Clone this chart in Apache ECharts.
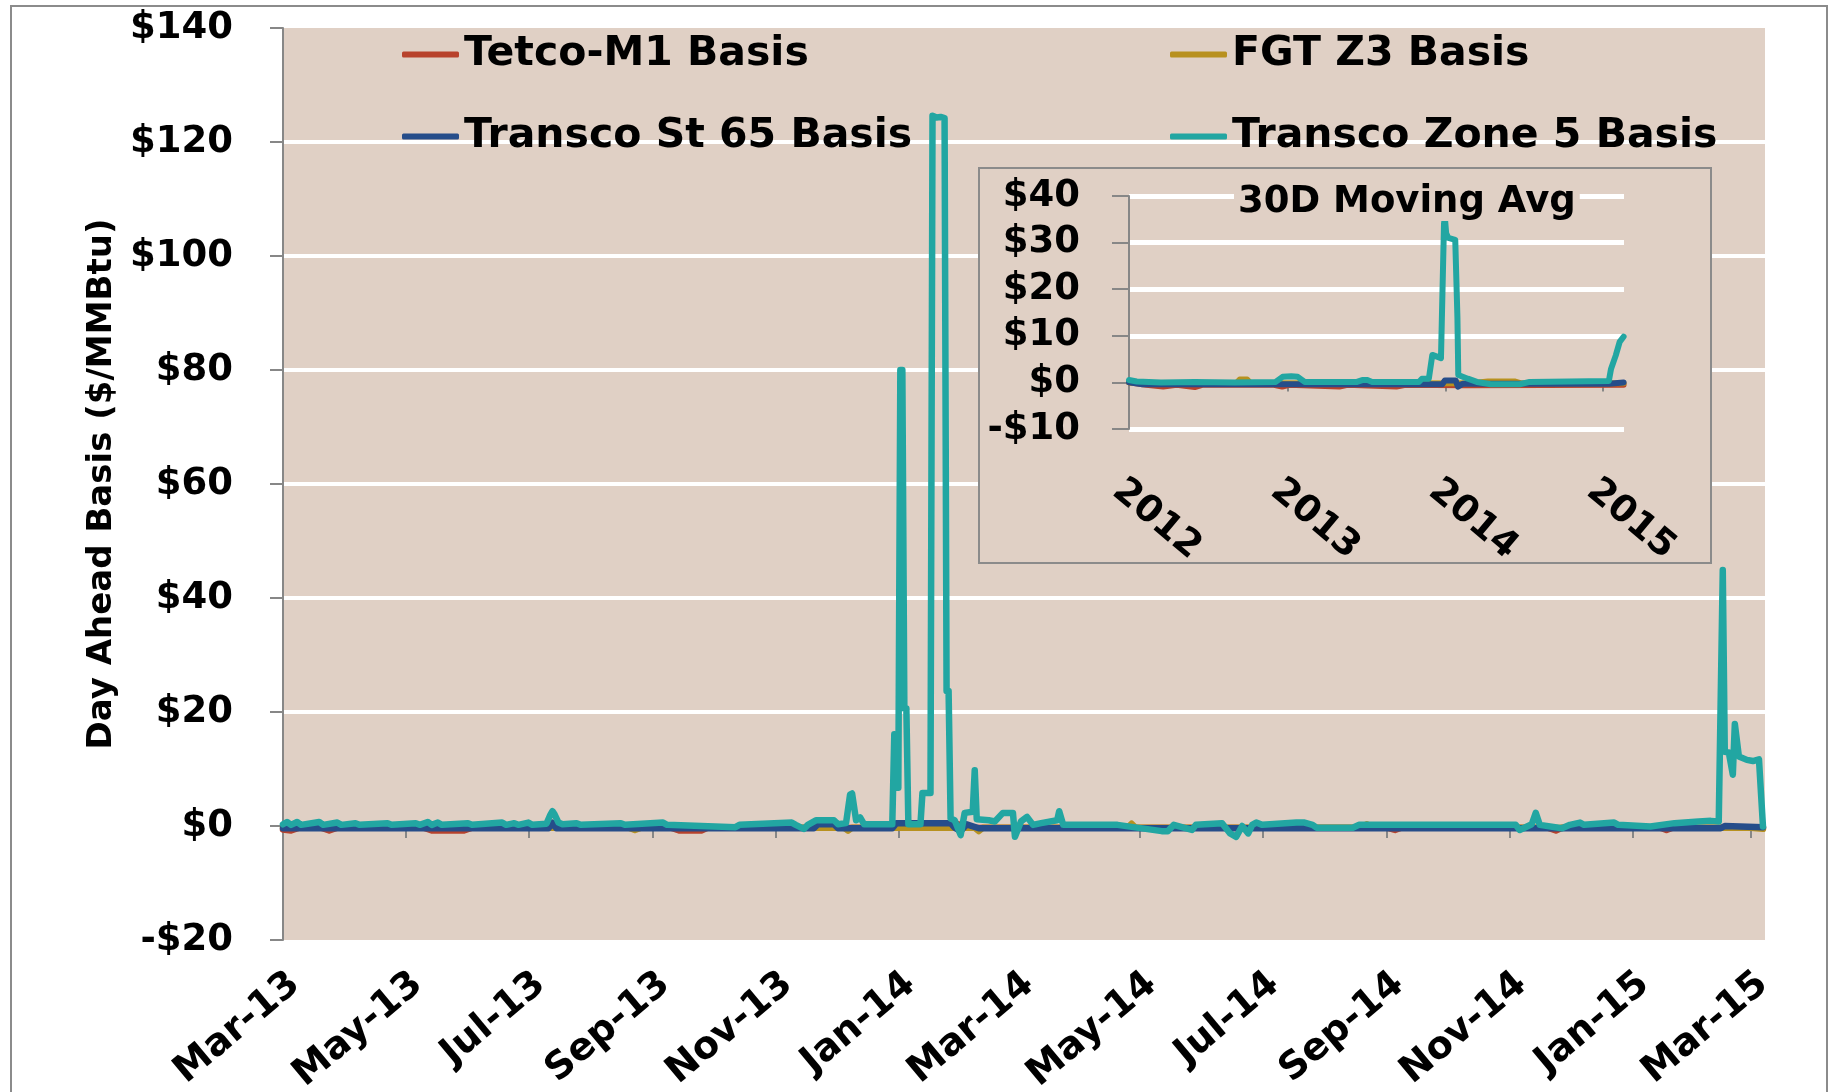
<!DOCTYPE html>
<html>
<head>
<meta charset="utf-8">
<title>Day Ahead Basis</title>
<script src="https://cdn.jsdelivr.net/npm/echarts@6/dist/echarts.min.js"></script>
<style>
  html, body { margin: 0; padding: 0; background: #fff; }
  #chart { width: 1835px; height: 1092px; }
</style>
</head>
<body>
<div id="chart"></div>
<script>
// ---- values ----
const monthTicks = ['2013-03-01', '2013-05-01', '2013-07-01', '2013-09-01', '2013-11-01', '2014-01-01',
  '2014-03-01', '2014-05-01', '2014-07-01', '2014-09-01', '2014-11-01', '2015-01-01', '2015-03-01']
const monthLabels = ['Mar-13', 'May-13', 'Jul-13', 'Sep-13', 'Nov-13', 'Jan-14',
  'Mar-14', 'May-14', 'Jul-14', 'Sep-14', 'Nov-14', 'Jan-15', 'Mar-15']
const yearTicks = ['2012-01-01', '2013-01-01', '2014-01-01', '2015-01-01']
const yearLabels = ['2012', '2013', '2014', '2015']
const seriesNames = ['Tetco-M1 Basis', 'FGT Z3 Basis', 'Transco St 65 Basis', 'Transco Zone 5 Basis']

// daily basis, $/MMBtu  [date, value]
const tetcoDaily = [
  ['2013-03-01', -0.6], ['2013-03-05', -0.8], ['2013-03-09', -0.3], ['2013-03-20', -0.3], ['2013-03-24', -0.8],
  ['2013-03-28', -0.3], ['2013-05-10', -0.3], ['2013-05-14', -0.8], ['2013-05-30', -0.8], ['2013-06-03', -0.3],
  ['2013-09-10', -0.3], ['2013-09-14', -0.8], ['2013-09-25', -0.8], ['2013-09-28', -0.3], ['2013-12-20', -0.3],
  ['2014-01-20', 0.4], ['2014-01-30', 0.4], ['2014-02-05', -0.3], ['2014-09-01', -0.3], ['2014-09-05', -0.7],
  ['2014-09-08', -0.3], ['2014-11-20', -0.3], ['2014-11-24', -0.8], ['2014-11-27', -0.3], ['2015-01-15', -0.3],
  ['2015-01-18', -0.7], ['2015-01-21', -0.3], ['2015-03-07', -0.3]
]
const fgtDaily = [
  ['2013-03-01', -0.3], ['2013-08-20', -0.3], ['2013-08-23', -0.7], ['2013-08-26', -0.3], ['2013-12-05', -0.3],
  ['2013-12-07', -0.8], ['2013-12-09', -0.3], ['2014-02-08', -0.3], ['2014-02-10', -0.9], ['2014-02-12', -0.3],
  ['2014-04-25', -0.3], ['2014-04-27', 0.4], ['2014-04-29', -0.3], ['2014-08-20', -0.3], ['2014-08-22', 0.3],
  ['2014-08-24', -0.3], ['2015-03-01', -0.3], ['2015-03-07', -0.5]
]
const st65Daily = [
  ['2013-03-01', -0.4], ['2013-07-11', -0.4], ['2013-07-13', 0.6], ['2013-07-15', -0.4], ['2013-11-20', -0.4],
  ['2013-11-22', 0.3], ['2013-11-30', 0.3], ['2013-12-02', -0.4], ['2013-12-29', -0.4], ['2013-12-31', 0.5],
  ['2014-01-27', 0.5], ['2014-01-29', -0.3], ['2014-02-01', -0.9], ['2014-02-04', 0.3], ['2014-02-10', -0.4],
  ['2015-02-14', -0.4], ['2015-02-16', 0.0], ['2015-03-07', -0.2]
]
const zone5Daily = [
  ['2013-03-01', 0.3], ['2013-03-03', 0.7], ['2013-03-05', 0.2], ['2013-03-08', 0.7], ['2013-03-10', 0.2],
  ['2013-03-19', 0.7], ['2013-03-21', 0.2], ['2013-03-28', 0.6], ['2013-03-30', 0.2], ['2013-04-06', 0.5],
  ['2013-04-08', 0.2], ['2013-04-22', 0.5], ['2013-04-24', 0.2], ['2013-05-06', 0.5], ['2013-05-08', 0.2],
  ['2013-05-12', 0.7], ['2013-05-14', 0.2], ['2013-05-17', 0.6], ['2013-05-19', 0.2], ['2013-06-01', 0.5],
  ['2013-06-03', 0.2], ['2013-06-18', 0.6], ['2013-06-20', 0.2], ['2013-06-24', 0.5], ['2013-06-26', 0.2],
  ['2013-07-01', 0.6], ['2013-07-03', 0.2], ['2013-07-10', 0.4], ['2013-07-12', 2.0], ['2013-07-13', 2.6],
  ['2013-07-14', 2.1], ['2013-07-16', 0.6], ['2013-07-18', 0.3], ['2013-07-25', 0.5], ['2013-07-27', 0.2],
  ['2013-08-16', 0.5], ['2013-08-18', 0.2], ['2013-09-06', 0.6], ['2013-09-08', 0.2], ['2013-10-12', -0.2],
  ['2013-10-14', 0.2], ['2013-11-09', 0.6], ['2013-11-11', 0.2], ['2013-11-15', -0.5], ['2013-11-17', 0.2],
  ['2013-11-21', 1.0], ['2013-11-30', 1.0], ['2013-12-02', 0.3], ['2013-12-06', 0.5], ['2013-12-08', 5.5],
  ['2013-12-09', 5.7], ['2013-12-11', 1.0], ['2013-12-13', 1.5], ['2013-12-15', 0.3], ['2013-12-29', 0.3],
  ['2013-12-30', 16.1], ['2013-12-31', 6.7], ['2014-01-01', 6.7], ['2014-01-02', 80.0], ['2014-01-03', 80.0],
  ['2014-01-04', 20.6], ['2014-01-05', 20.6], ['2014-01-06', 0.3], ['2014-01-12', 0.3], ['2014-01-13', 5.8],
  ['2014-01-17', 5.8], ['2014-01-18', 124.6], ['2014-01-20', 124.3], ['2014-01-22', 124.4], ['2014-01-24', 124.2],
  ['2014-01-25', 23.7], ['2014-01-26', 23.7], ['2014-01-27', 1.3], ['2014-01-29', 1.0], ['2014-02-01', -1.6],
  ['2014-02-03', 2.3], ['2014-02-07', 2.5], ['2014-02-08', 9.8], ['2014-02-09', 1.2], ['2014-02-15', 1.0],
  ['2014-02-18', 0.8], ['2014-02-22', 2.3], ['2014-02-27', 2.3], ['2014-02-28', -1.9], ['2014-03-03', 0.8],
  ['2014-03-06', 1.6], ['2014-03-09', 0.2], ['2014-03-13', 0.5], ['2014-03-21', 1.0], ['2014-03-22', 2.6],
  ['2014-03-24', 0.2], ['2014-04-20', 0.2], ['2014-05-12', -0.9], ['2014-05-15', -0.9], ['2014-05-18', 0.2],
  ['2014-05-27', -0.7], ['2014-05-29', 0.2], ['2014-06-11', 0.5], ['2014-06-15', -1.3], ['2014-06-18', -1.9],
  ['2014-06-21', 0.0], ['2014-06-24', -1.3], ['2014-06-26', 0.2], ['2014-06-28', 0.6], ['2014-07-01', 0.2],
  ['2014-07-18', 0.6], ['2014-07-22', 0.6], ['2014-07-26', 0.2], ['2014-07-28', -0.3], ['2014-08-15', -0.3],
  ['2014-08-18', 0.2], ['2014-11-04', 0.2], ['2014-11-06', -0.7], ['2014-11-12', 0.3], ['2014-11-14', 2.3],
  ['2014-11-16', 0.2], ['2014-11-27', -0.4], ['2014-12-01', 0.2], ['2014-12-06', 0.6], ['2014-12-08', 0.2],
  ['2014-12-23', 0.6], ['2014-12-25', 0.2], ['2015-01-10', -0.1], ['2015-01-22', 0.5], ['2015-02-03', 0.8],
  ['2015-02-09', 0.9], ['2015-02-13', 0.8], ['2015-02-15', 44.9], ['2015-02-16', 13.0], ['2015-02-18', 12.9],
  ['2015-02-20', 9.0], ['2015-02-21', 17.9], ['2015-02-23', 12.2], ['2015-02-27', 11.6], ['2015-03-02', 11.4],
  ['2015-03-05', 11.7], ['2015-03-07', -0.1]
]

// 30 day moving average (inset)
const tetcoAvg = [
  ['2012-01-01', 0.0], ['2012-02-10', -0.5], ['2012-03-20', -0.9], ['2012-04-20', -0.5], ['2012-06-01', -1.0],
  ['2012-06-20', -0.5], ['2012-12-01', -0.5], ['2012-12-20', -0.9], ['2013-01-05', -0.5], ['2013-05-01', -0.9],
  ['2013-05-20', -0.5], ['2013-09-10', -0.9], ['2013-10-01', -0.5], ['2014-02-15', -0.6], ['2015-02-17', -0.5]
]
const fgtAvg = [
  ['2012-01-01', 0.0], ['2012-02-01', -0.2], ['2012-09-05', -0.2], ['2012-09-13', 0.6], ['2012-09-30', 0.6],
  ['2012-10-08', -0.2], ['2014-03-01', -0.2], ['2014-04-10', 0.2], ['2014-06-10', 0.2], ['2014-06-25', -0.2],
  ['2015-02-17', -0.2]
]
const st65Avg = [
  ['2012-01-01', 0.0], ['2012-02-01', -0.4], ['2013-12-25', -0.4], ['2013-12-31', 0.4], ['2014-01-25', 0.4],
  ['2014-01-30', -0.9], ['2014-02-10', -0.3], ['2015-01-14', -0.3], ['2015-02-17', 0.0]
]
const zone5Avg = [
  ['2012-01-01', 0.5], ['2012-01-19', 0.2], ['2012-03-15', 0.0], ['2012-06-01', 0.1], ['2012-09-01', 0.0],
  ['2012-12-05', 0.1], ['2012-12-21', 1.2], ['2013-01-10', 1.3], ['2013-01-25', 1.2], ['2013-02-10', 0.1],
  ['2013-06-11', 0.1], ['2013-06-23', 0.5], ['2013-07-05', 0.5], ['2013-07-16', 0.1], ['2013-11-01', 0.1],
  ['2013-11-08', 0.8], ['2013-11-24', 0.8], ['2013-12-02', 5.9], ['2013-12-22', 5.2], ['2013-12-29', 34.0],
  ['2013-12-31', 35.4], ['2014-01-03', 32.0], ['2014-01-08', 31.0], ['2014-01-24', 30.6], ['2014-01-29', 14.0],
  ['2014-01-31', 1.6], ['2014-02-22', 0.8], ['2014-03-15', 0.1], ['2014-04-16', -0.4], ['2014-06-22', -0.4],
  ['2014-07-15', 0.1], ['2015-01-14', 0.3], ['2015-01-19', 2.9], ['2015-01-30', 5.8], ['2015-02-08', 8.7],
  ['2015-02-17', 9.8]
]

// ---- chart ----
const font = 'DejaVu Sans'
const beige = '#e0d0c5'
const axisGray = '#878787'
const ts = s => new Date(s).getTime()
const toPoints = arr => arr.map(p => [ts(p[0]), p[1]])
const dollar = v => (v < 0 ? '-$' : '$') + Math.abs(v)

const mainMin = ts('2013-03-01'), mainMax = ts('2015-03-08')
const insetMin = ts('2012-01-01'), insetMax = ts('2015-02-18')
const monthValues = monthTicks.map(ts)
const yearValues = yearTicks.map(ts)

const chart = echarts.init(document.getElementById('chart'))

const lineSeries = (name, data, xi, yi, width, z) => ({
  name: name,
  type: 'line',
  xAxisIndex: xi,
  yAxisIndex: yi,
  data: toPoints(data),
  symbol: 'none',
  z: z,
  lineStyle: { width: width, cap: 'round', join: 'round' }
})

const legendBase = {
  orient: 'vertical',
  top: 29,
  itemGap: 41,
  itemWidth: 57,
  itemHeight: 6,
  icon: 'roundRect',
  textStyle: { fontFamily: font, fontWeight: 'bold', fontSize: 41, color: '#000' }
}

chart.setOption({
  animation: false,
  color: ['#b8422c', '#b8911f', '#264d8a', '#22a6a2'],
  title: {
    text: '30D Moving Avg',
    left: 1234,
    top: 184,
    padding: [0, 4],
    backgroundColor: beige,
    textStyle: { fontFamily: font, fontWeight: 'bold', fontSize: 37, color: '#000' }
  },
  legend: [
    Object.assign({ left: 397, data: [seriesNames[0], seriesNames[2]] }, legendBase),
    Object.assign({ left: 1165, data: [seriesNames[1], seriesNames[3]] }, legendBase)
  ],
  graphic: [
    { type: 'rect', silent: true, z: 0, shape: { x: 11, y: 6, width: 1816, height: 1100 },
      style: { fill: 'none', stroke: '#8b8b8b', lineWidth: 2 } },
    { type: 'rect', silent: true, z: 1, shape: { x: 979, y: 168, width: 732, height: 395 },
      style: { fill: beige, stroke: '#8b8b8b', lineWidth: 2 } }
  ],
  grid: [
    { left: 283, right: 70, top: 28, bottom: 152, show: true, backgroundColor: beige, borderWidth: 0, outerBoundsMode: 'none' },
    { left: 1129, right: 211, top: 196, bottom: 663, outerBoundsMode: 'none' }
  ],
  xAxis: [
    // ticks sit on the $0 line
    { gridIndex: 0, type: 'value', min: mainMin, max: mainMax,
      axisLine: { show: true, onZero: true, lineStyle: { color: axisGray, width: 2 } },
      axisTick: { show: true, customValues: monthValues, length: 12, lineStyle: { color: axisGray, width: 2 } },
      axisLabel: { show: false }, splitLine: { show: false } },
    // month labels along the bottom
    { gridIndex: 0, type: 'value', position: 'bottom', min: mainMin, max: mainMax,
      axisLine: { show: false, onZero: false }, axisTick: { show: false }, splitLine: { show: false },
      axisLabel: {
        customValues: monthValues, rotate: 40, margin: 25, verticalAlign: 'top',
        fontFamily: font, fontWeight: 'bold', fontSize: 38, color: '#000',
        formatter: v => monthLabels[monthValues.indexOf(v)]
      } },
    { gridIndex: 1, type: 'value', min: insetMin, max: insetMax, z: 2,
      axisLine: { show: true, onZero: true, lineStyle: { color: axisGray, width: 2 } },
      axisTick: { show: true, customValues: yearValues, length: 9, lineStyle: { color: axisGray, width: 2 } },
      axisLabel: { show: false }, splitLine: { show: false } },
    { gridIndex: 1, type: 'value', position: 'bottom', min: insetMin, max: insetMax, z: 2,
      axisLine: { show: false, onZero: false }, axisTick: { show: false }, splitLine: { show: false },
      axisLabel: {
        customValues: yearValues, rotate: -40, margin: 43, verticalAlign: 'top',
        fontFamily: font, fontWeight: 'bold', fontSize: 37, color: '#000',
        formatter: v => yearLabels[yearValues.indexOf(v)]
      } }
  ],
  yAxis: [
    { gridIndex: 0, type: 'value', min: -20, max: 140, interval: 20,
      name: 'Day Ahead Basis ($/MMBtu)', nameLocation: 'middle', nameGap: 162,
      nameTextStyle: { fontFamily: font, fontWeight: 'bold', fontSize: 34, color: '#000' },
      axisLine: { show: true, onZero: false, lineStyle: { color: axisGray, width: 2 } },
      axisTick: { show: true, length: 13, lineStyle: { color: axisGray, width: 2 } },
      axisLabel: { margin: 50, fontFamily: font, fontWeight: 'bold', fontSize: 37, color: '#000', formatter: dollar },
      splitLine: { show: true, showMinLine: false, showMaxLine: false, lineStyle: { color: '#fff', width: 4 } } },
    { gridIndex: 1, type: 'value', min: -10, max: 40, interval: 10, z: 2,
      axisLine: { show: true, onZero: false, lineStyle: { color: axisGray, width: 2 } },
      axisTick: { show: true, length: 17, lineStyle: { color: axisGray, width: 2 } },
      axisLabel: { margin: 49, fontFamily: font, fontWeight: 'bold', fontSize: 37, color: '#000', formatter: dollar },
      splitLine: { show: true, lineStyle: { color: '#fff', width: 5 } } }
  ],
  series: [
    lineSeries(seriesNames[0], tetcoDaily, 0, 0, 6.5, 2),
    lineSeries(seriesNames[1], fgtDaily, 0, 0, 6.5, 2),
    lineSeries(seriesNames[2], st65Daily, 0, 0, 6.5, 2),
    lineSeries(seriesNames[3], zone5Daily, 0, 0, 6.5, 2),
    lineSeries(seriesNames[0], tetcoAvg, 2, 1, 6, 3),
    lineSeries(seriesNames[1], fgtAvg, 2, 1, 6, 3),
    lineSeries(seriesNames[2], st65Avg, 2, 1, 6, 3),
    lineSeries(seriesNames[3], zone5Avg, 2, 1, 6, 3)
  ]
})
</script>
</body>
</html>
